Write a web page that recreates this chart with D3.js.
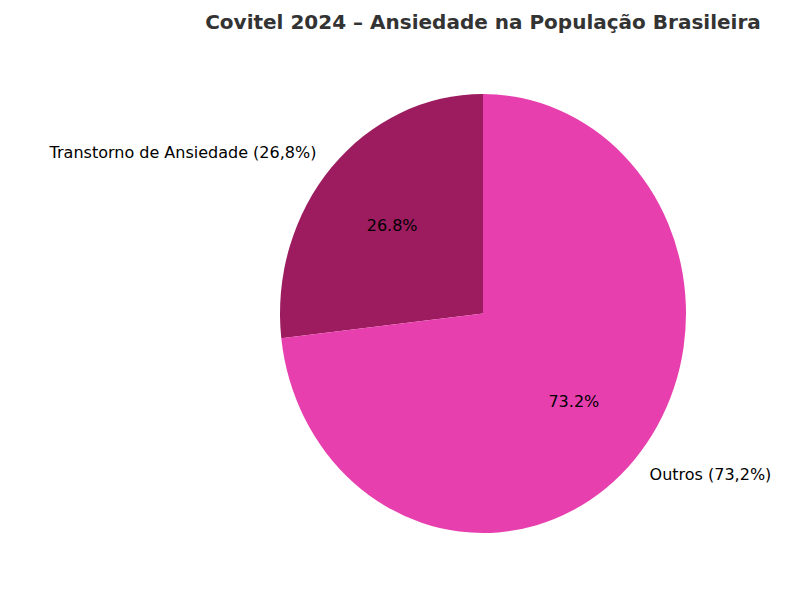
<!DOCTYPE html>
<html><head><meta charset="utf-8">
<script src="https://cdn.jsdelivr.net/npm/d3@7"></script>
<style>body{margin:0;background:#fff}</style>
</head><body><div id="app"></div>
<script>
const labels = ['Transtorno de Ansiedade (26,8%)', 'Outros (73,2%)']
const values = [26.8, 73.2]
const colors = ['#9c1c5f', '#e83faf']

const width = 800, height = 600
const cx = 483, cy = 313.5, rx = 203, ry = 219.5

const svg = d3.select('#app').append('svg')
  .attr('width', width).attr('height', height)
  .style('font-family', 'DejaVu Sans')

svg.append('text')
  .attr('x', 483).attr('y', 29)
  .attr('text-anchor', 'middle')
  .attr('font-size', 20).attr('font-weight', 'bold')
  .attr('fill', '#333')
  .text('Covitel 2024 – Ansiedade na População Brasileira')

const pie = d3.pie().sort(null).startAngle(0).endAngle(-2 * Math.PI)
const arcs = pie(values)
const arc = d3.arc().innerRadius(0).outerRadius(rx)

const g = svg.append('g').attr('transform', `translate(${cx},${cy}) scale(1,${ry / rx})`)
g.selectAll('path').data(arcs).enter().append('path')
  .attr('d', arc).attr('fill', (d, i) => colors[i])

const pos = (d, k) => {
  const a = (d.startAngle + d.endAngle) / 2
  return [cx + k * rx * Math.sin(a), cy - k * ry * Math.cos(a)]
}

svg.selectAll('.pct').data(arcs).enter().append('text')
  .attr('x', d => pos(d, 0.6)[0]).attr('y', d => pos(d, 0.6)[1])
  .attr('text-anchor', 'middle').attr('dominant-baseline', 'central')
  .attr('font-size', 16).attr('fill', '#000')
  .text(d => d.value.toFixed(1) + '%')

svg.selectAll('.lbl').data(arcs).enter().append('text')
  .attr('x', d => pos(d, 1.1)[0]).attr('y', d => pos(d, 1.1)[1])
  .attr('text-anchor', d => pos(d, 1.1)[0] < cx ? 'end' : 'start')
  .attr('dominant-baseline', 'central')
  .attr('font-size', 16).attr('fill', '#000')
  .text((d, i) => labels[i])
</script></body></html>
